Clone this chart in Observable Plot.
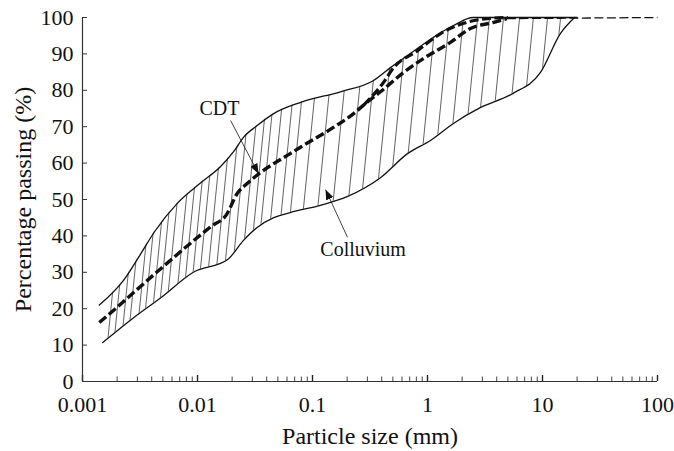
<!DOCTYPE html>
<html>
<head>
<meta charset="utf-8">
<script src="https://cdn.jsdelivr.net/npm/d3@7"></script>
<script src="https://cdn.jsdelivr.net/npm/@observablehq/plot@0.6"></script>
<style>
  body { margin: 0; background: #fff; }
  #chart svg { font-family: "Liberation Serif", "Times New Roman", serif; }
</style>
</head>
<body>
<div id="chart"></div>
<script>
// Grading envelope of the colluvium samples (upper and lower bounds)
const upperX = [0.0014, 0.0023, 0.0032, 0.0042, 0.0067, 0.0106, 0.0158, 0.021, 0.025, 0.033,
                0.046, 0.079, 0.175, 0.34, 0.48, 0.71, 1.12, 1.68, 2.5, 20];
const upperY = [21, 28, 35, 41, 49, 54.5, 59, 63.5, 67, 70.3,
                73.6, 76.7, 79.6, 82.7, 86.3, 90.1, 94.5, 97.8, 100, 100];
const lowerX = [0.0015, 0.0028, 0.0048, 0.0092, 0.0183, 0.025, 0.033, 0.046, 0.064, 0.117,
                0.2, 0.39, 0.67, 1.06, 1.68, 2.9, 5.5, 9.6, 14.3, 19];
const lowerY = [10.7, 17.6, 23, 30, 33.5, 38.7, 42.3, 45, 46.4, 48.4,
                50.8, 56, 62.6, 66.2, 70.9, 75.3, 79.1, 84.9, 95.6, 100];

// CDT grading curves (main curve and the branch above it)
const cdtX = [0.0014, 0.0019, 0.0028, 0.005, 0.0087, 0.013, 0.018, 0.022, 0.027, 0.035,
              0.064, 0.078, 0.152, 0.228, 0.28, 0.39, 0.62, 0.92, 1.57, 2.36, 3.7, 4.9];
const cdtY = [16.2, 19.8, 24.5, 31.5, 38, 42.5, 46, 51.5, 54.4, 57.3,
              62.6, 64.3, 69.8, 73.6, 76, 79.6, 84.9, 88.7, 93.1, 97, 98.6, 99.7];
const cdtBranchX = [0.28, 0.40, 0.51, 0.82, 1.3, 2.06, 3.3, 5];
const cdtBranchY = [76, 81.5, 86.3, 90.9, 95.6, 98.4, 99.7, 100];
const cdtTailX = [4.9, 100];
const cdtTailY = [99.7, 100];

// Hatch line positions (particle size where each line crosses 50 %)
const hatchX = [0.0022, 0.0025, 0.0029, 0.0033, 0.0039, 0.0044, 0.0051, 0.0058, 0.0067, 0.0080,
                0.0092, 0.0106, 0.0122, 0.0143, 0.0168, 0.0198, 0.0232, 0.0278, 0.0326, 0.0375,
                0.045, 0.055, 0.066, 0.085, 0.113, 0.152, 0.206, 0.267, 0.36, 0.467,
                0.62, 0.82, 1.08, 1.43, 1.9, 2.41, 3.19, 4.4, 5.8, 7.7, 10];

// Annotations
const labelText = ["CDT", "Colluvium"];
const labelX = [0.0155, 0.117];
const labelY = [75, 36.3];
const labelAnchor = ["middle", "start"];
const arrowX1 = [0.0194, 0.2015];
const arrowY1 = [71.7, 39.6];
const arrowX2 = [0.0339, 0.130];
const arrowY2 = [57.1, 52.7];

// Axis ticks
const xMajorTicks = [0.001, 0.01, 0.1, 1, 10, 100];
const xTickLabels = ["0.001", "0.01", "0.1", "1", "10", "100"];
const yTicks = [0, 10, 20, 30, 40, 50, 60, 70, 80, 90, 100];

const rows = (xs, ys) => xs.map((x, i) => ({x, y: ys[i]}));
const band = upperX.map((ux, i) => ({ux, uy: upperY[i], lx: lowerX[i], ly: lowerY[i]}));
const labels = labelText.map((t, i) => ({t, x: labelX[i], y: labelY[i], a: labelAnchor[i]}));
const arrows = arrowX1.map((x1, i) => ({x1, y1: arrowY1[i], x2: arrowX2[i], y2: arrowY2[i]}));

const ink = "#111";
const font = "Liberation Serif";
// distinct colours so the groups can be found after rendering
const bandKey = "#fefefd";
const hatchInk = "#333334";
const pointerInk = "#111112";
const dash = {strokeDasharray: "9,3.5", strokeLinecap: "butt", strokeLinejoin: "miter"};

const plot = Plot.plot({
  width: 674,
  height: 451,
  marginLeft: 82,
  marginRight: 17,
  marginTop: 17,
  marginBottom: 70,
  style: {fontFamily: font, background: "#fff", color: ink},
  x: {type: "log", domain: [0.001, 100], label: null},
  y: {domain: [0, 100], label: null},
  marks: [
    // envelope region (outline used as the clip for the hatching)
    Plot.area(band, {x1: "lx", y1: "ly", x2: "ux", y2: "uy", curve: "monotone-x",
                     fill: bandKey, fillOpacity: 0}),
    Plot.ruleX(hatchX, {y1: 0, y2: 100, stroke: hatchInk, strokeWidth: 0.75}),
    Plot.line(rows(upperX, upperY), {x: "x", y: "y", curve: "monotone-x", stroke: ink, strokeWidth: 1.3}),
    Plot.line(rows(lowerX, lowerY), {x: "x", y: "y", curve: "monotone-x", stroke: ink, strokeWidth: 1.3}),
    Plot.line(rows(cdtTailX, cdtTailY), {x: "x", y: "y", stroke: ink, strokeWidth: 1.3, ...dash}),
    Plot.line(rows(cdtX, cdtY), {x: "x", y: "y", curve: "monotone-x", stroke: ink, strokeWidth: 3.4, ...dash}),
    Plot.line(rows(cdtBranchX, cdtBranchY), {x: "x", y: "y", curve: "monotone-x", stroke: ink,
                                             strokeWidth: 3.2, ...dash}),
    // axes
    Plot.axisX({ticks: 10, tickSize: -4.5, tickFormat: () => "", label: null, stroke: "#444"}),
    Plot.axisX(xMajorTicks, {tickSize: -6, tickFormat: () => "", label: null, stroke: "#222", strokeWidth: 1.4}),
    Plot.axisX(xMajorTicks, {tickSize: 0, tickPadding: 15, label: null, fontSize: 22, fill: ink,
                             tickFormat: d => xTickLabels[xMajorTicks.indexOf(d)]}),
    Plot.axisY(yTicks, {tickSize: -5, tickFormat: () => "", label: null, stroke: "#333"}),
    Plot.axisY(yTicks, {tickSize: 0, tickPadding: 9, label: null, fontSize: 22, fill: ink}),
    Plot.ruleY([0], {stroke: "#333", strokeWidth: 1.2}),
    Plot.ruleX([0.001], {stroke: "#333", strokeWidth: 1.2}),
    // titles
    Plot.text(["Particle size (mm)"], {frameAnchor: "bottom", lineAnchor: "middle", dy: 55,
                                       fontSize: 24, fill: ink}),
    Plot.text(["Percentage passing (%)"], {frameAnchor: "left", textAnchor: "middle", lineAnchor: "middle",
                                           rotate: -90, dx: -59, fontSize: 24, fill: ink}),
    // annotations
    Plot.link(arrows, {x1: "x1", y1: "y1", x2: "x2", y2: "y2", stroke: pointerInk, strokeWidth: 0.8}),
    Plot.text(labels, {x: "x", y: "y", text: "t", textAnchor: "start", fontSize: 20, fill: ink,
                       filter: d => d.a === "start"}),
    Plot.text(labels, {x: "x", y: "y", text: "t", textAnchor: "middle", fontSize: 20, fill: ink,
                       filter: d => d.a === "middle"})
  ]
});

// Post-process: clip the hatching to the envelope and slant it, add arrowheads
const svg = d3.select(plot.tagName.toLowerCase() === "svg" ? plot : plot.querySelector("svg"));
const defs = svg.insert("defs", ":first-child");
const envPath = svg.select(`[fill="${bandKey}"] path, path[fill="${bandKey}"]`);
if (!envPath.empty()) {
  const envG = d3.select(envPath.node().parentNode);
  defs.append("clipPath").attr("id", "band-clip")
    .append("path").attr("d", envPath.attr("d"))
    .attr("transform", envG.attr("transform") || null);
}
defs.append("marker").attr("id", "arrowhead")
  .attr("viewBox", "0 0 10 8").attr("refX", 10).attr("refY", 4)
  .attr("markerWidth", 10).attr("markerHeight", 8)
  .attr("markerUnits", "userSpaceOnUse").attr("orient", "auto")
  .append("path").attr("d", "M0,0L10,4L0,8Z").attr("fill", ink);

const hatchG = svg.select(`g[stroke="${hatchInk}"]`);
if (!hatchG.empty()) {
  const yMid = plot.scale("y").apply(50);
  const wrap = svg.insert("g", () => hatchG.node()).attr("clip-path", "url(#band-clip)");
  wrap.node().appendChild(hatchG.node());
  const prev = hatchG.attr("transform") || "";
  hatchG.attr("transform", `translate(0,${yMid}) skewX(-5.7) translate(0,${-yMid}) ${prev}`);
}

svg.selectAll(`g[stroke="${pointerInk}"] path`).attr("marker-end", "url(#arrowhead)");

document.getElementById("chart").appendChild(plot);
</script>
</body>
</html>
